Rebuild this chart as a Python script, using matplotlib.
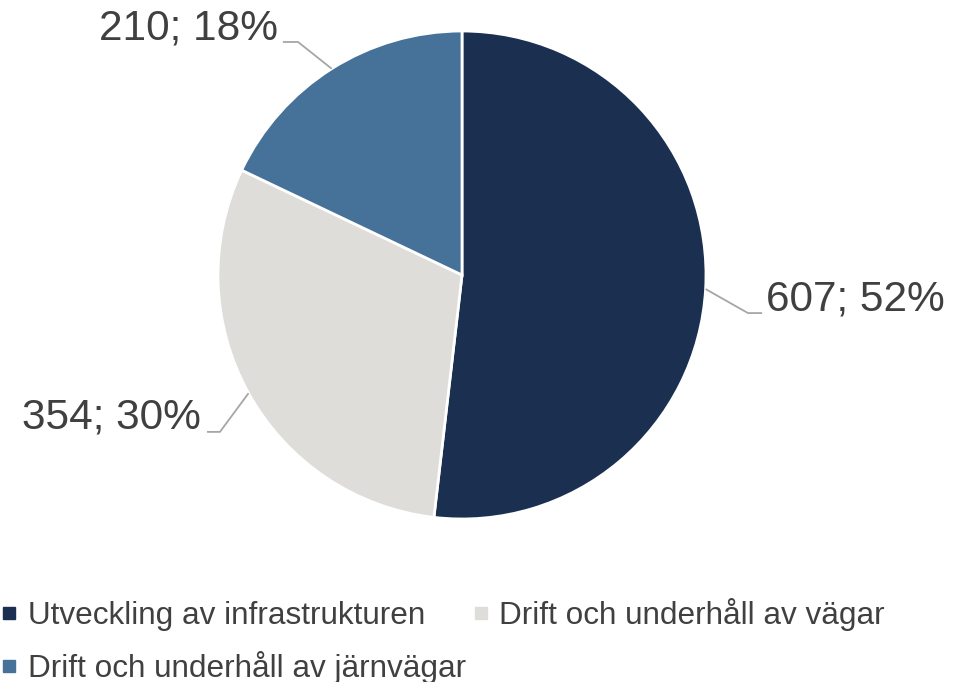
import numpy as np
import matplotlib
matplotlib.use("Agg")
import matplotlib.pyplot as plt
from matplotlib.lines import Line2D

plt.rcParams['font.family'] = ['Liberation Sans', 'DejaVu Sans']

# data
categories = ['Utveckling av infrastrukturen', 'Drift och underhåll av vägar',
              'Drift och underhåll av järnvägar']
values = [607, 354, 210]
colors = ['#1B2F50', '#DEDDDA', '#467199']

total = sum(values)
labels = ['%d; %d%%' % (v, round(100 * v / total)) for v in values]

fig = plt.figure(figsize=(9.69, 6.82), dpi=100)
# pie axes: center ~ (462, 275) px, radius ~244 px
cx, cy, r = 462, 275, 244
ax = fig.add_axes([(cx - r) / 969, (682 - cy - r) / 682, 2 * r / 969, 2 * r / 682])
wedges, _ = ax.pie(values, colors=colors, startangle=90, counterclock=False, radius=1.0,
                   wedgeprops=dict(edgecolor='white', linewidth=2))
ax.set_xlim(-1, 1)
ax.set_ylim(-1, 1)
ax.set_aspect('equal')
ax.axis('off')

# leader lines: elbow point, end of horizontal, text position, alignment
elbows = [(1.172, -0.156), (-0.992, -0.643), (-0.672, 0.955)]
ends = [(1.23, -0.156), (-1.045, -0.643), (-0.734, 0.955)]
text_pos = [(1.245, -0.10), (-1.07, -0.585), (-0.755, 1.012)]
aligns = ['left', 'right', 'right']

for w, lab, el, en, tp, ha in zip(wedges, labels, elbows, ends, text_pos, aligns):
    mid = np.deg2rad((w.theta1 + w.theta2) / 2)
    ex, ey = np.cos(mid), np.sin(mid)
    ax.plot([ex, el[0], en[0]], [ey, el[1], en[1]], color='#A6A6A6', lw=1.3,
            clip_on=False, solid_capstyle='butt')
    ax.text(tp[0], tp[1], lab, ha=ha, va='center', fontsize=30.5, color='#404040',
            clip_on=False)

handles = [Line2D([], [], marker='s', linestyle='none', markersize=8.5,
                  markerfacecolor=c, markeredgecolor=c) for c in colors]
# legend fills column-wise, so reorder to read row-wise
order = [0, 2, 1]
fig.legend([handles[i] for i in order], [categories[i] for i in order],
           loc='upper left', bbox_to_anchor=(-0.022, 0.155),
           ncol=2, frameon=False, fontsize=22.7, labelcolor='#404040',
           handlelength=0.55, handletextpad=0.3, columnspacing=0.2,
           labelspacing=0.62, borderpad=0.2)

fig.savefig('out.png', dpi=100)
